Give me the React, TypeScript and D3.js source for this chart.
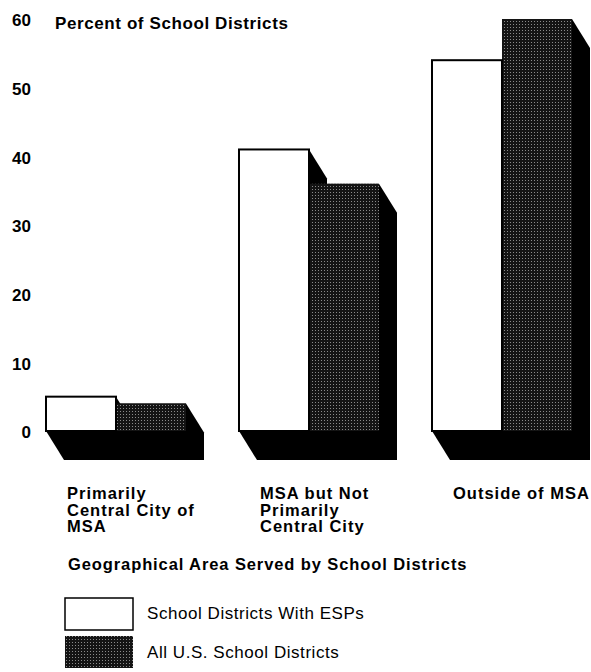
import React from "react";
import * as d3 from "d3";

const categories = ["Primarily Central City of MSA", "MSA but Not Primarily Central City", "Outside of MSA"];
const categoryLines = [["Primarily", "Central City of", "MSA"], ["MSA but Not", "Primarily", "Central City"], ["Outside of MSA"]];
const seriesNames = ["School Districts With ESPs", "All U.S. School Districts"];
const espValues = [5, 41, 54];
const allValues = [4, 36, 60];
const yTicks = [0, 10, 20, 30, 40, 50, 60];
const yTitle = "Percent of School Districts";
const xTitle = "Geographical Area Served by School Districts";

const W = 591;
const H = 672;
const FONT = "'Liberation Sans', Arial, Helvetica, sans-serif";
const DX = 18;
const DY = 29;

export default function App() {
  const y = d3.scaleLinear().domain([0, 60]).range([431, 19]);
  const x0 = d3.scaleBand<string>().domain(categories).range([46, 572]).paddingInner(0.2746).paddingOuter(0);
  const x1 = d3.scaleBand<string>().domain(seriesNames).range([0, x0.bandwidth()]);
  const base = y(0);

  const extrusion = (x: number, w: number, top: number) =>
    [
      [x, top],
      [x + w, top],
      [x + w + DX, top + DY],
      [x + w + DX, base + DY],
      [x + DX, base + DY],
      [x, base],
    ]
      .map((p) => p.join(","))
      .join(" ");

  return (
    <svg width={W} height={H} style={{ position: "absolute", left: 0, top: 0, background: "#fff" }} fontFamily={FONT}>
      <defs>
        <pattern id="dots" width={3} height={3} patternUnits="userSpaceOnUse">
          <rect width={3} height={3} fill="#141414" />
          <rect x={0} y={0} width={1} height={1} fill="#8a8a8a" />
        </pattern>
      </defs>
      <rect width={W} height={H} fill="#fff" />

      {/* y tick labels */}
      {yTicks.map((t) => (
        <text key={t} x={31} y={y(t) + 3} textAnchor="end" dominantBaseline="middle" fontSize={17} fontWeight="bold" fill="#000">
          {t}
        </text>
      ))}
      <text x={55} y={29} fontSize={17} fontWeight="bold" letterSpacing={0.6} fill="#000">
        {yTitle}
      </text>

      {/* bars */}
      {categories.map((c, i) => {
        const gx = x0(c)!;
        const w = x1.bandwidth();
        const xa = gx + x1(seriesNames[0])!;
        const xb = gx + x1(seriesNames[1])!;
        const ta = y(espValues[i]);
        const tb = y(allValues[i]);
        return (
          <g key={c}>
            <polygon points={extrusion(xa, w, ta)} fill="#000" />
            <polygon points={extrusion(xb, w, tb)} fill="#000" />
            <rect x={xb} y={tb} width={w} height={base - tb} fill="url(#dots)" />
            <rect x={xa} y={ta} width={w} height={base - ta} fill="#fff" stroke="#000" strokeWidth={2} />
          </g>
        );
      })}

      {/* category labels */}
      {categories.map((c, i) => (
        <text key={c} x={x0(c)! + 21} y={499} fontSize={16.5} fontWeight="bold" letterSpacing={1} fill="#000">
          {categoryLines[i].map((l, j) => (
            <tspan key={j} x={x0(c)! + 21} y={499 + j * 16.5}>
              {l}
            </tspan>
          ))}
        </text>
      ))}

      <text x={68} y={570} fontSize={16.5} fontWeight="bold" letterSpacing={0.9} fill="#000">
        {xTitle}
      </text>

      {/* legend */}
      <rect x={65} y={598} width={68} height={32} fill="#fff" stroke="#000" strokeWidth={1.5} />
      <rect x={65} y={636} width={68} height={32} fill="url(#dots)" />
      <text x={147} y={615} dominantBaseline="middle" fontSize={17} letterSpacing={0.55} fill="#000">
        {seriesNames[0]}
      </text>
      <text x={147} y={654} dominantBaseline="middle" fontSize={17} letterSpacing={0.55} fill="#000">
        {seriesNames[1]}
      </text>
    </svg>
  );
}
